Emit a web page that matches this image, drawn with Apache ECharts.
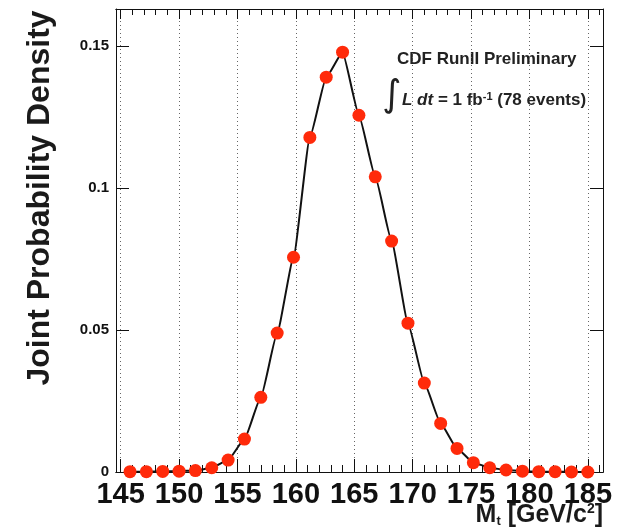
<!DOCTYPE html>
<html>
<head>
<meta charset="utf-8">
<script src="https://cdn.jsdelivr.net/npm/echarts@6/dist/echarts.min.js"></script>
<style>
  html, body { margin: 0; padding: 0; background: #ffffff; }
  #chart { width: 618px; height: 530px; }
</style>
</head>
<body>
<div id="chart"></div>
<script>
// Top-quark mass (GeV/c^2) at each evaluated point
const massValues = [
  145.8, 147.2, 148.6, 150.0, 151.4, 152.8, 154.2, 155.6, 157.0, 158.4,
  159.8, 161.2, 162.6, 164.0, 165.4, 166.8, 168.2, 169.6, 171.0, 172.4,
  173.8, 175.2, 176.6, 178.0, 179.4, 180.8, 182.2, 183.6, 185.0
];
// Joint probability density at each mass point
const densityValues = [
  0.0001, 0.0001, 0.0002, 0.0003, 0.0005, 0.0015, 0.0042, 0.0116, 0.0263, 0.0489,
  0.0756, 0.1178, 0.1390, 0.1478, 0.1256, 0.1039, 0.0813, 0.0524, 0.0313, 0.0171,
  0.0083, 0.0033, 0.0015, 0.0007, 0.0003, 0.0001, 0.0001, 0.0000, 0.0000
];
// Tick positions
const xMajorTicks = [145, 150, 155, 160, 165, 170, 175, 180, 185];
const xMinorTicks = [145, 146, 147, 148, 149, 150, 151, 152, 153, 154, 155, 156, 157,
  158, 159, 160, 161, 162, 163, 164, 165, 166, 167, 168, 169, 170, 171, 172, 173,
  174, 175, 176, 177, 178, 179, 180, 181, 182, 183, 184, 185, 186];
const yMajorTicks = [0, 0.05, 0.1, 0.15];

const X_MIN = 144.6, X_MAX = 186.3;
const Y_MIN = 0, Y_MAX = 0.163;
const INK = '#111111';
const MARKER = '#ff2a0a';
const SANS = "'Liberation Sans', Arial, Helvetica, sans-serif";

const points = massValues.map((m, i) => [m, densityValues[i]]);

function xAxisDef(position, ticks, len, withLabels, withGrid) {
  return {
    type: 'value',
    position: position,
    min: X_MIN,
    max: X_MAX,
    axisLine: { show: true, onZero: false, lineStyle: { color: INK, width: 1 } },
    axisTick: { show: true, inside: true, length: len, customValues: ticks,
                lineStyle: { color: INK, width: 1 } },
    axisLabel: withLabels ? {
      show: true,
      customValues: ticks,
      margin: 8,
      color: INK,
      fontSize: 29,
      fontWeight: 'bold',
      fontFamily: SANS
    } : { show: false },
    splitLine: withGrid ? { show: true, lineStyle: { color: '#666666', type: [1, 3], width: 1 } }
                        : { show: false }
  };
}

function yAxisDef(position, withLabels) {
  return {
    type: 'value',
    position: position,
    min: Y_MIN,
    max: Y_MAX,
    axisLine: { show: true, onZero: false, lineStyle: { color: INK, width: 1 } },
    axisTick: { show: true, inside: true, length: 13, customValues: yMajorTicks,
                lineStyle: { color: INK, width: 1 } },
    axisLabel: withLabels ? {
      show: true,
      customValues: yMajorTicks,
      margin: 7,
      color: INK,
      fontSize: 15,
      fontWeight: 'bold',
      fontFamily: SANS
    } : { show: false },
    splitLine: { show: false }
  };
}

const chart = echarts.init(document.getElementById('chart'), null, { renderer: 'canvas' });

chart.setOption({
  animation: false,
  backgroundColor: '#ffffff',
  grid: { left: 116, right: 15, top: 9, bottom: 58, containLabel: false },
  xAxis: [
    xAxisDef('bottom', xMajorTicks, 13, true, true),
    xAxisDef('bottom', xMinorTicks, 7, false, false),
    xAxisDef('top', xMajorTicks, 10, false, false),
    xAxisDef('top', xMinorTicks, 6, false, false)
  ],
  yAxis: [
    yAxisDef('left', true),
    yAxisDef('right', false)
  ],
  series: [{
    type: 'line',
    xAxisIndex: 0,
    yAxisIndex: 0,
    data: points,
    smooth: 0.15,
    smoothMonotone: 'x',
    symbol: 'circle',
    symbolSize: 13,
    showAllSymbol: true,
    lineStyle: { color: INK, width: 2 },
    itemStyle: { color: MARKER, borderWidth: 0 },
    emphasis: { disabled: true },
    z: 3
  }],
  graphic: [
    {
      type: 'text',
      x: 40, y: 198,
      rotation: Math.PI / 2,
      style: {
        text: 'Joint Probability Density',
        fontSize: 32,
        fontWeight: 'bold',
        fontFamily: SANS,
        fill: '#1a1a1a',
        align: 'center',
        verticalAlign: 'middle'
      }
    },
    {
      type: 'text',
      x: 603, y: 515,
      style: {
        text: 'M{sub|t} [GeV/c{sup|2}]',
        fontSize: 25,
        fontWeight: 'bold',
        fontFamily: SANS,
        fill: '#1a1a1a',
        align: 'right',
        verticalAlign: 'middle',
        rich: {
          sub: { fontSize: 13, fontWeight: 'bold', verticalAlign: 'bottom', fill: '#1a1a1a',
                 fontFamily: SANS },
          sup: { fontSize: 14, fontWeight: 'bold', verticalAlign: 'top', fill: '#1a1a1a',
                 fontFamily: SANS }
        }
      }
    },
    {
      type: 'text',
      x: 397, y: 59,
      style: {
        text: 'CDF RunII Preliminary',
        fontSize: 17,
        fontWeight: 'bold',
        fontFamily: SANS,
        fill: '#222222',
        align: 'left',
        verticalAlign: 'middle'
      }
    },
    {
      type: 'text',
      x: 392, y: 96,
      style: {
        text: '\u222B',
        fontSize: 37,
        fontFamily: "'DejaVu Sans', sans-serif",
        fill: '#222222',
        align: 'center',
        verticalAlign: 'middle'
      }
    },
    {
      type: 'text',
      x: 402, y: 100,
      style: {
        text: '{it|L dt} = 1 fb{sup|-1} (78 events)',
        fontSize: 17,
        fontWeight: 'bold',
        fontFamily: SANS,
        fill: '#222222',
        align: 'left',
        verticalAlign: 'middle',
        rich: {
          it: { fontSize: 17, fontWeight: 'bold', fontStyle: 'italic', fill: '#222222',
                fontFamily: SANS },
          sup: { fontSize: 11, fontWeight: 'bold', verticalAlign: 'top', fill: '#222222',
                 fontFamily: SANS }
        }
      }
    }
  ]
});
</script>
</body>
</html>
